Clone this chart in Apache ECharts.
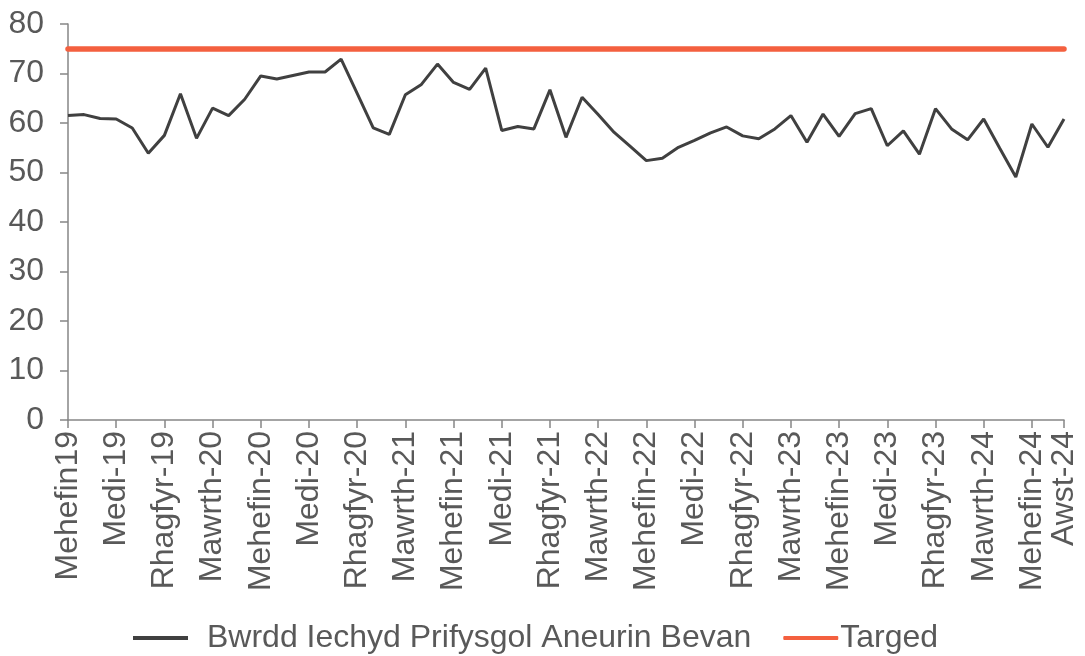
<!DOCTYPE html>
<html>
<head>
<meta charset="utf-8">
<title>Bwrdd Iechyd Prifysgol Aneurin Bevan</title>
<script src="https://cdn.jsdelivr.net/npm/echarts@6/dist/echarts.min.js"></script>
<style>
  html, body { margin: 0; padding: 0; background: #fff; }
  #main { width: 1085px; height: 656px; }
</style>
</head>
<body>
<div id="main"></div>
<script>
  // misoedd, Mehefin 2019 - Awst 2024
  var months = [
    'Mehefin19', 'Gorffennaf-19', 'Awst-19', 'Medi-19', 'Hydref-19', 'Tachwedd-19', 'Rhagfyr-19',
    'Ionawr-20', 'Chwefror-20', 'Mawrth-20', 'Ebrill-20', 'Mai-20', 'Mehefin-20', 'Gorffennaf-20', 'Awst-20', 'Medi-20', 'Hydref-20', 'Tachwedd-20', 'Rhagfyr-20',
    'Ionawr-21', 'Chwefror-21', 'Mawrth-21', 'Ebrill-21', 'Mai-21', 'Mehefin-21', 'Gorffennaf-21', 'Awst-21', 'Medi-21', 'Hydref-21', 'Tachwedd-21', 'Rhagfyr-21',
    'Ionawr-22', 'Chwefror-22', 'Mawrth-22', 'Ebrill-22', 'Mai-22', 'Mehefin-22', 'Gorffennaf-22', 'Awst-22', 'Medi-22', 'Hydref-22', 'Tachwedd-22', 'Rhagfyr-22',
    'Ionawr-23', 'Chwefror-23', 'Mawrth-23', 'Ebrill-23', 'Mai-23', 'Mehefin-23', 'Gorffennaf-23', 'Awst-23', 'Medi-23', 'Hydref-23', 'Tachwedd-23', 'Rhagfyr-23',
    'Ionawr-24', 'Chwefror-24', 'Mawrth-24', 'Ebrill-24', 'Mai-24', 'Mehefin-24', 'Gorffennaf-24', 'Awst-24'
  ];

  var bevan = [
    61.5, 61.7, 60.9, 60.8, 59.0, 53.9, 57.5, 65.9, 56.9, 63.0,
    61.5, 64.8, 69.5, 68.9, 69.6, 70.3, 70.3, 72.9, 66.0, 59.0,
    57.7, 65.7, 67.8, 71.9, 68.2, 66.8, 71.1, 58.5, 59.3, 58.8,
    66.7, 57.1, 65.2, 61.7, 58.1, 55.3, 52.4, 52.9, 55.1, 56.5,
    58.0, 59.2, 57.4, 56.8, 58.8, 61.5, 56.1, 61.8, 57.3, 61.9,
    62.9, 55.4, 58.4, 53.7, 62.9, 58.8, 56.6, 60.8, 54.9, 49.1,
    59.8, 55.1, 60.8
  ];

  var targed = 75;

  var yTicks = [0, 10, 20, 30, 40, 50, 60, 70, 80];

  var textColor = '#595959';
  var axisColor = '#868686';
  var font = 'Liberation Sans, Arial, sans-serif';

  // label bob 3 mis, a'r mis olaf
  function showLabel(idx) {
    return idx % 3 === 0 || idx === months.length - 1;
  }

  var myChart = echarts.init(document.getElementById('main'));

  var option = {
    animation: false,
    backgroundColor: '#ffffff',
    grid: {
      left: 68,
      right: 21,
      top: 24,
      bottom: 236,
      containLabel: false,
      outerBoundsMode: 'none'
    },
    legend: {
      left: 128,
      top: 617,
      itemWidth: 55,
      itemHeight: 4,
      itemGap: 32,
      textStyle: { fontSize: 32, color: textColor, fontFamily: font },
      data: [
        { name: 'Bwrdd Iechyd Prifysgol Aneurin Bevan', icon: 'rect', textStyle: { padding: [0, 0, 0, 14] } },
        { name: 'Targed', icon: 'roundRect', textStyle: { padding: [0, 0, 0, -3] } }
      ]
    },
    xAxis: {
      type: 'category',
      boundaryGap: false,
      data: months,
      axisLine: { lineStyle: { color: axisColor, width: 1.5 } },
      axisTick: {
        interval: function (idx) { return showLabel(idx); },
        length: 8,
        lineStyle: { color: axisColor, width: 1.5 }
      },
      axisLabel: {
        interval: function (idx) { return showLabel(idx); },
        rotate: 90,
        margin: 11,
        fontSize: 32,
        color: textColor,
        fontFamily: font
      },
      splitLine: { show: false }
    },
    yAxis: {
      type: 'value',
      min: yTicks[0],
      max: yTicks[yTicks.length - 1],
      interval: 10,
      axisLine: { show: true, lineStyle: { color: axisColor, width: 1.5 } },
      axisTick: { show: true, length: 8, lineStyle: { color: axisColor, width: 1.5 } },
      axisLabel: { margin: 24, fontSize: 32, color: textColor, fontFamily: font },
      splitLine: { show: false }
    },
    series: [
      {
        name: 'Bwrdd Iechyd Prifysgol Aneurin Bevan',
        type: 'line',
        data: bevan,
        symbol: 'none',
        lineStyle: { color: '#404040', width: 3 },
        itemStyle: { color: '#404040' }
      },
      {
        name: 'Targed',
        type: 'line',
        data: [],
        symbol: 'none',
        lineStyle: { color: '#F4603F', width: 5 },
        itemStyle: { color: '#F4603F' },
        markLine: {
          silent: true,
          symbol: ['none', 'none'],
          label: { show: false },
          lineStyle: { color: '#F4603F', width: 5.5, type: 'solid', cap: 'round' },
          data: [{ yAxis: targed }]
        }
      }
    ]
  };

  myChart.setOption(option);
  window.addEventListener('resize', function () { myChart.resize(); });
</script>
</body>
</html>
